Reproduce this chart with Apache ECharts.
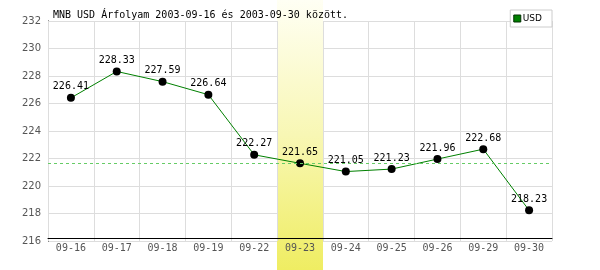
<!DOCTYPE html>
<html>
<head>
<meta charset="utf-8">
<script src="https://cdn.jsdelivr.net/npm/echarts@6/dist/echarts.min.js"></script>
<style>html,body{margin:0;padding:0;background:#fff;}#c{width:600px;height:270px;}</style>
</head>
<body>
<div id="c"></div>
<script>
const categories = ['09-16','09-17','09-18','09-19','09-22','09-23','09-24','09-25','09-26','09-29','09-30'];
const usdValues = [226.41, 228.33, 227.59, 226.64, 222.27, 221.65, 221.05, 221.23, 221.96, 222.68, 218.23];
const highlightDate = '09-23';
const referenceValue = 221.65;
const yMin = 216, yMax = 232, yStep = 2;
const titleText = 'MNB USD Árfolyam 2003-09-16 és 2003-09-30 között.';
const seriesName = 'USD';

const mono = 'DejaVu Sans Mono';
const chart = echarts.init(document.getElementById('c'), null, {renderer: 'canvas'});
const option = {
  animation: false,
  backgroundColor: '#ffffff',
  title: {
    text: titleText, left: 48, top: 5,
    textStyle: {fontFamily: mono, fontSize: 10, fontWeight: 'normal', color: '#000'}
  },
  legend: {
    right: 48, top: 10, orient: 'vertical',
    backgroundColor: '#fff', borderColor: '#ccc', borderWidth: 1,
    padding: [4, 10, 4, 3], itemWidth: 7, itemHeight: 7, itemGap: 2,
    icon: 'rect',
    textStyle: {fontFamily: 'DejaVu Sans', fontSize: 9, color: '#000', padding: [0,0,0,-3]},
    data: [{name: seriesName, itemStyle: {color: '#008000', borderColor: '#003000', borderWidth: 1}}]
  },
  grid: {left: 48, right: 48, top: 21, bottom: 29},
  xAxis: {
    type: 'category', data: categories, boundaryGap: true,
    offset: -3, z: 2,
    axisLine: {show: true, lineStyle: {color: '#000', width: 1}},
    axisTick: {show: false},
    axisLabel: {fontFamily: mono, fontSize: 10, color: '#555', margin: 5, interval: 0},
    splitLine: {show: true, interval: 0, lineStyle: {color: '#ddd', width: 1}}
  },
  yAxis: {
    type: 'value', min: yMin, max: yMax, interval: yStep, z: 0,
    axisLine: {show: true, lineStyle: {color: '#000', width: 1}},
    axisTick: {show: false},
    axisLabel: {fontFamily: 'DejaVu Sans', fontSize: 10, color: '#555', margin: 7},
    splitLine: {show: true, lineStyle: {color: '#ddd', width: 1}}
  },
  series: [{
    name: seriesName, type: 'line', data: usdValues, z: 3,
    color: '#008000',
    lineStyle: {color: '#008000', width: 1},
    symbol: 'circle', symbolSize: 8,
    itemStyle: {color: '#000'},
    label: {show: true, position: 'top', distance: 2, fontFamily: mono, fontSize: 10, color: '#000',
      formatter: p => p.value.toFixed(2)},
    markLine: {
      silent: true, symbol: 'none', label: {show: false},
      data: [{yAxis: referenceValue, lineStyle: {color: '#66cc66', type: [3, 3], width: 1, opacity: 1}}]
    }
  }]
};
chart.setOption(option);

const c0 = chart.convertToPixel({xAxisIndex: 0}, categories[0]);
const c1 = chart.convertToPixel({xAxisIndex: 0}, categories[1]);
const bw = c1 - c0;
const cx = chart.convertToPixel({xAxisIndex: 0}, highlightDate);
chart.setOption({
  graphic: [{
    type: 'rect', z: 1, silent: true,
    shape: {x: Math.round(cx - bw / 2), y: 0, width: Math.round(bw), height: 270},
    style: {
      fill: new echarts.graphic.LinearGradient(0, 0, 0, 1, [
        {offset: 0, color: '#fffff4'},
        {offset: 0.5, color: '#f8f7b4'},
        {offset: 1, color: '#efed62'}
      ])
    }
  }]
});
</script>
</body>
</html>
